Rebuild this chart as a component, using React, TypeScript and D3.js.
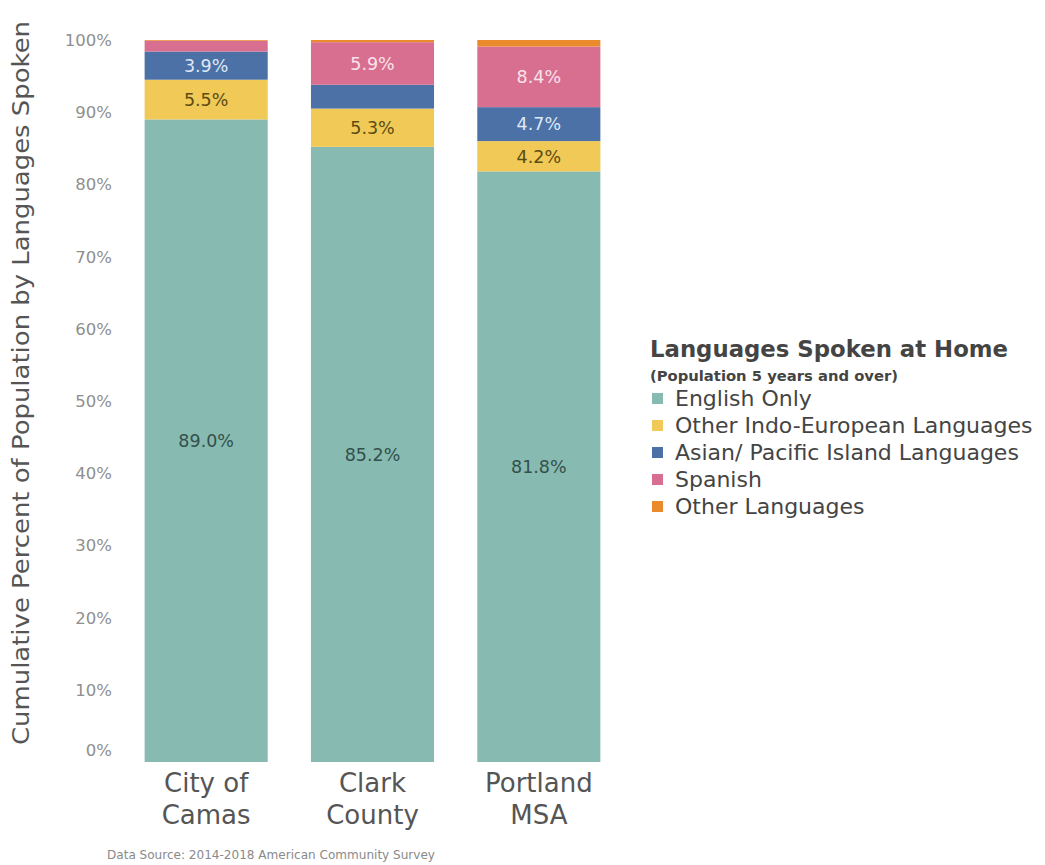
import React from "react";
import * as d3 from "d3";

const categories = [["City of", "Camas"], ["Clark", "County"], ["Portland", "MSA"]];
const seriesNames = ["English Only", "Other Indo-European Languages", "Asian/ Pacific Island Languages", "Spanish", "Other Languages"];
const englishOnly = [89.0, 85.2, 81.8];
const otherIndoEuropean = [5.5, 5.3, 4.2];
const asianPacific = [3.9, 3.3, 4.7];
const spanish = [1.5, 5.9, 8.4];
const otherLanguages = [0.1, 0.3, 0.9];
const showLabel = [
  [true, true, true],
  [true, true, true],
  [true, false, true],
  [false, true, true],
  [false, false, false],
];
const yTicks = [0, 10, 20, 30, 40, 50, 60, 70, 80, 90, 100];
const colors = ["#87bab1", "#f0c957", "#4b71a6", "#d86f90", "#ea8a2c"];
const labelColors = ["#34504b", "#5c4c12", "#dfe8f5", "#f9e3ea", "#fff"];

export default function App() {
  const W = 1045, H = 865;
  const y = d3.scaleLinear().domain([0, 100]).range([762, 40]);
  const x = d3.scaleBand().domain(["0", "1", "2"]).range([123, 622]).paddingInner(0.26).paddingOuter(0.13);
  const series = [englishOnly, otherIndoEuropean, asianPacific, spanish, otherLanguages];
  const font = "'DejaVu Sans', Verdana, sans-serif";

  const rects: any[] = [];
  const labels: any[] = [];
  categories.forEach((_, ci) => {
    let cum = 0;
    series.forEach((s, si) => {
      const v = s[ci];
      const y0 = y(cum), y1 = y(Math.min(cum + v, 100));
      rects.push(
        <rect key={`r${ci}-${si}`} x={x(String(ci))} width={x.bandwidth()} y={y1} height={y0 - y1} fill={colors[si]} />
      );
      if (showLabel[si][ci]) {
        labels.push(
          <text key={`l${ci}-${si}`} x={(x(String(ci)) as number) + x.bandwidth() / 2} y={(y0 + y1) / 2} dy="0.36em"
            textAnchor="middle" fontSize={17.5} fill={labelColors[si]} fontFamily={font}>
            {v.toFixed(1)}%
          </text>
        );
      }
      cum += v;
    });
  });

  return (
    <svg width={W} height={H} style={{ position: "absolute", left: 0, top: 0, background: "#fff" }}>
      {yTicks.map((t) => (
        <text key={t} x={112} y={t === 0 ? y(t) - 12 : y(t)} dy="0.36em" textAnchor="end" fontSize={16.5} fill="#8f8f8f" fontFamily={font}>
          {t}%
        </text>
      ))}
      <text transform="translate(29,383) rotate(-90)" textAnchor="middle" fontSize={23} fill="#555" fontFamily={font}
        textLength={724} lengthAdjust="spacingAndGlyphs">
        Cumulative Percent of Population by Languages Spoken
      </text>
      {rects}
      {labels}
      {categories.map((c, ci) => {
        const cx = (x(String(ci)) as number) + x.bandwidth() / 2;
        return (
          <text key={ci} textAnchor="middle" fontSize={26} fill="#555" fontFamily={font}>
            <tspan x={cx} y={792}>{c[0]}</tspan>
            <tspan x={cx} y={824}>{c[1]}</tspan>
          </text>
        );
      })}
      <text x={107} y={859} fontSize={12} fill="#8a8a8a" fontFamily={font} textLength={328} lengthAdjust="spacingAndGlyphs">
        Data Source: 2014-2018 American Community Survey
      </text>
      <g fontFamily={font}>
        <text x={650} y={357} fontSize={22.5} fontWeight="bold" fill="#444" textLength={358} lengthAdjust="spacingAndGlyphs">Languages Spoken at Home</text>
        <text x={650} y={381} fontSize={14} fontWeight="bold" fill="#444" textLength={248} lengthAdjust="spacingAndGlyphs">(Population 5 years and over)</text>
        {seriesNames.map((n, i) => (
          <g key={n} transform={`translate(652,${398 + i * 27})`}>
            <rect x={0} y={-5} width={11} height={11} fill={colors[i]} />
            <text x={23} y={0} dy="0.36em" fontSize={22} fill="#444">{n}</text>
          </g>
        ))}
      </g>
    </svg>
  );
}
